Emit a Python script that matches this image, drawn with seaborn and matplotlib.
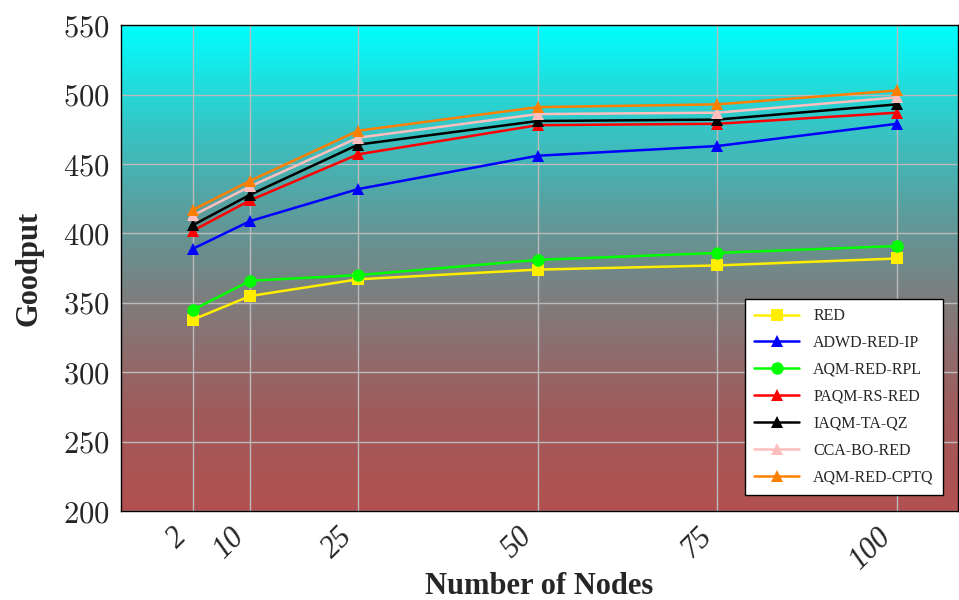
import numpy as np
import pandas as pd
import matplotlib
matplotlib.use("Agg")
import matplotlib.pyplot as plt
import seaborn as sns
from matplotlib.colors import LinearSegmentedColormap
from matplotlib.ticker import MultipleLocator

# ==============================
# DATA
# ==============================

nodes = [2, 10, 25, 50, 75, 100]

red = [338, 355, 367, 374, 377, 382]
adwd_red_ip = [389, 409, 432, 456, 463, 479]
aqm_red_rpl = [345, 366, 370, 381, 386, 391]
paqm_rs_red = [402, 424, 457, 478, 479, 487]
iaqm_ta_qz = [406, 428, 464, 481, 482, 493]
cca_bo_red = [413, 434, 469, 486, 487, 498]
aqm_red_cptq = [417, 438, 474, 491, 493, 503]

series = [
    ("RED", red, "#ffee00", "s"),
    ("ADWD-RED-IP", adwd_red_ip, "#0000ff", "^"),
    ("AQM-RED-RPL", aqm_red_rpl, "#00ff00", "o"),
    ("PAQM-RS-RED", paqm_rs_red, "#ff0000", "^"),
    ("IAQM-TA-QZ", iaqm_ta_qz, "#000000", "^"),
    ("CCA-BO-RED", cca_bo_red, "#ffbfbf", "^"),
    ("AQM-RED-CPTQ", aqm_red_cptq, "#ff8000", "^"),
]

rows = []
for name, vals, _, _ in series:
    for n, v in zip(nodes, vals):
        rows.append({"Nodes": n, "Goodput": v, "Method": name})
df = pd.DataFrame(rows)

# ==============================
# PLOT
# ==============================

sns.set_style("white")
plt.rcParams["font.family"] = ["Liberation Serif", "DejaVu Serif"]
plt.rcParams["mathtext.fontset"] = "cm"

fig = plt.figure(figsize=(9.59, 6.0), dpi=100)
ax = fig.add_axes([0.1262, 0.148, 0.8728, 0.81])

# gradient background (red-brown at bottom -> cyan at top)
bg = LinearSegmentedColormap.from_list(
    "bg",
    [(0.0, "#b25050"), (0.2, "#a05a5a"), (0.4, "#847878"),
     (0.6, "#5e9a9a"), (0.8, "#34c8c8"), (1.0, "#00ffff")],
)
grad = np.linspace(0, 1, 256).reshape(-1, 1)
ax.imshow(grad, cmap=bg, origin="lower", aspect="auto",
          extent=[0, 1, 0, 1], transform=ax.transAxes, zorder=0)

palette = {name: c for name, _, c, _ in series}
markers = {name: m for name, _, _, m in series}
order = [s[0] for s in series]

sns.lineplot(data=df, x="Nodes", y="Goodput", hue="Method", style="Method",
             hue_order=order, style_order=order, palette=palette,
             markers=markers, dashes=False, markersize=9, linewidth=1.8,
             markeredgewidth=0, ax=ax, zorder=3)

ax.set_xlim(-8, 108.5)
ax.set_ylim(200, 550)
ax.set_xticks(nodes)
ax.set_xticklabels([str(n) for n in nodes], rotation=45, fontsize=22,
                   fontstyle="italic", ha="right", va="top")
ax.yaxis.set_major_locator(MultipleLocator(50))
ax.yaxis.set_minor_locator(MultipleLocator(10))
ax.set_yticklabels([f"${int(t)}$" for t in ax.get_yticks()], fontsize=22)
ax.tick_params(axis="y", which="major", length=5, direction="in",
               color="#555555", pad=8)
ax.tick_params(axis="y", which="minor", length=3, direction="in", color="#555555")
ax.tick_params(axis="x", length=0, pad=8)

ax.grid(True, which="major", color="#bbbbbb", linewidth=1.0, zorder=1)
ax.set_axisbelow(True)

ax.set_xlabel("Number of Nodes", fontsize=22, fontweight="bold")
ax.xaxis.set_label_coords(0.5, -0.125)
ax.set_ylabel("Goodput", fontsize=22, fontweight="bold", labelpad=14)

for sp in ax.spines.values():
    sp.set_color("black")
    sp.set_linewidth(1.0)

leg = ax.legend(loc="lower right", bbox_to_anchor=(0.992, 0.017), fontsize=11.5,
                frameon=True, fancybox=False, edgecolor="black",
                framealpha=1.0, handlelength=2.8, labelspacing=0.68,
                borderpad=0.6, handletextpad=0.9)
leg.get_frame().set_linewidth(1.0)

fig.savefig("out.png", dpi=100)
